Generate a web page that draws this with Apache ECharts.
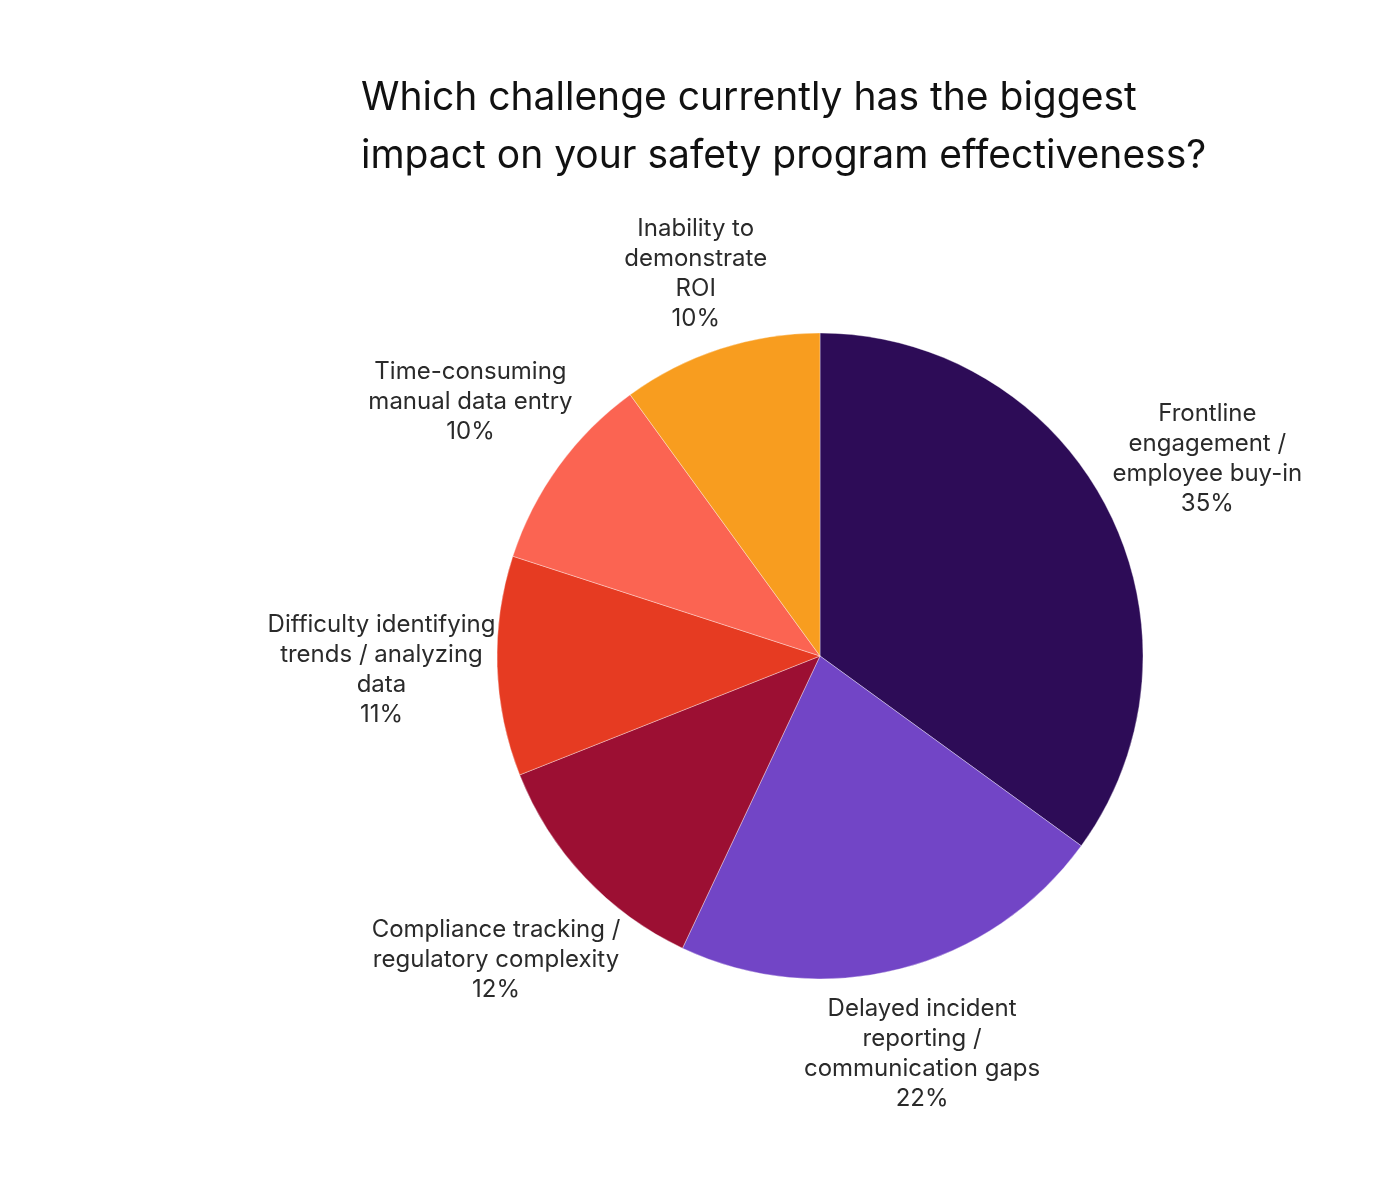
<!DOCTYPE html>
<html>
<head>
<meta charset="utf-8">
<script src="https://cdn.jsdelivr.net/npm/echarts@6/dist/echarts.min.js"></script>
<style>
  html, body { margin: 0; padding: 0; background: #fff; }
  #chart { width: 1400px; height: 1200px; }
</style>
</head>
<body>
<div id="chart"></div>
<script>
  // slices, clockwise from 12 o'clock
  const labels = [
    'Frontline\nengagement /\nemployee buy-in',
    'Delayed incident\nreporting /\ncommunication gaps',
    'Compliance tracking /\nregulatory complexity',
    'Difficulty identifying\ntrends / analyzing\ndata',
    'Time-consuming\nmanual data entry',
    'Inability to\ndemonstrate\nROI'
  ];
  const shares = [35, 22, 12, 11, 10, 10];
  const colors = ['#2d0c57', '#7245c6', '#9c0f33', '#e63b22', '#fb6452', '#f89d1f'];

  const CX = 820, CY = 656, R = 323, GAP = 0;
  const total = shares.reduce((a, b) => a + b, 0);

  const chart = echarts.init(document.getElementById('chart'));

  // put each label centred on its slice's mid-angle, just outside the rim
  function placeLabel(p) {
    let before = 0;
    for (let k = 0; k < p.dataIndex; k++) before += shares[k];
    const mid = (before + shares[p.dataIndex] / 2) / total * Math.PI * 2;
    const sx = Math.sin(mid), sy = -Math.cos(mid);
    const w = p.labelRect.width, h = p.labelRect.height;
    const d = R + GAP + (Math.abs(sx) * w + Math.abs(sy) * h) / 2;
    return { x: CX + d * sx, y: CY + d * sy, align: 'center', verticalAlign: 'middle' };
  }

  chart.setOption({
    backgroundColor: '#fff',
    title: {
      text: 'Which challenge currently has the biggest\nimpact on your safety program effectiveness?',
      left: 356,
      top: 64,
      textStyle: { fontFamily: 'Inter', fontSize: 39, fontWeight: 'normal', color: '#111', lineHeight: 58 }
    },
    series: [{
      type: 'pie',
      center: [CX, CY],
      radius: R,
      startAngle: 90,
      clockwise: true,
      silent: true,
      animation: false,
      itemStyle: { borderColor: 'rgba(255,255,255,0.35)', borderWidth: 1 },
      label: {
        show: true,
        position: 'outside',
        fontFamily: 'Inter',
        fontSize: 24,
        lineHeight: 30,
        color: '#2a2a2a',
        formatter: p => p.name + '\n' + p.value + '%'
      },
      labelLine: { show: false, length: 10, length2: 0 },
      labelLayout: placeLabel,
      data: labels.map((name, i) => ({ name: name, value: shares[i], itemStyle: { color: colors[i] } }))
    }]
  });
</script>
</body>
</html>
